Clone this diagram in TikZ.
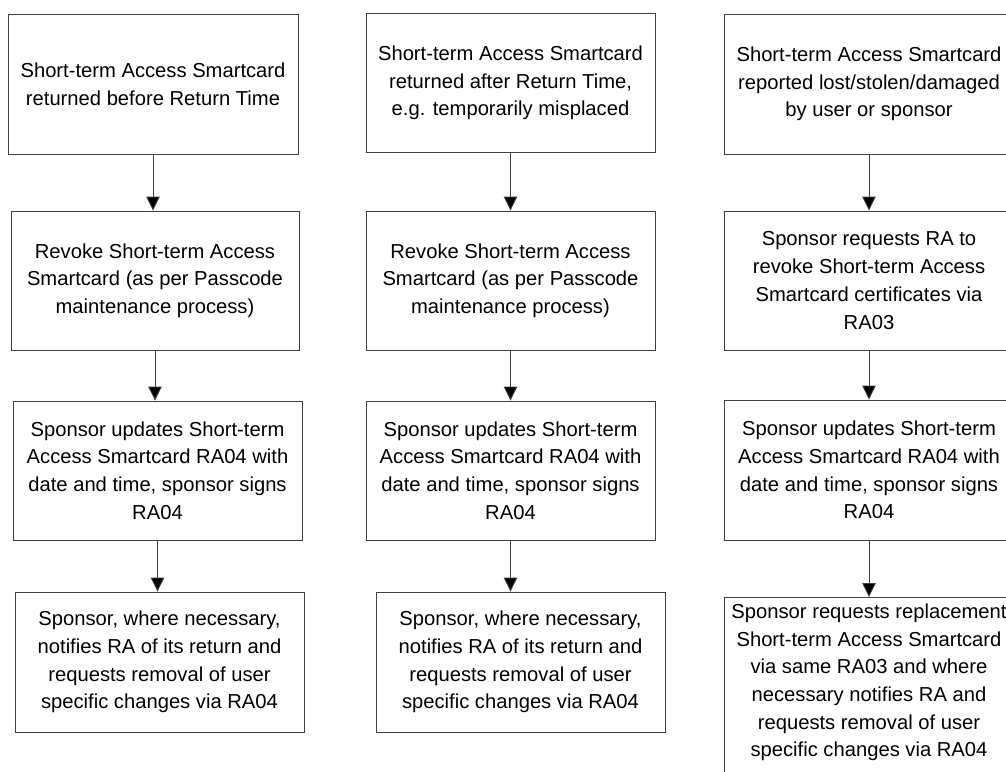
\documentclass[tikz,border=0pt]{standalone}
\usepackage{fontspec}
\setmainfont{Liberation Sans}
\usetikzlibrary{arrows.meta}
\begin{document}
\begin{tikzpicture}[x=1pt,y=-1pt,
  box/.style={draw=black!75, line width=0.9pt, fill=white, align=center, inner sep=0pt,
    font=\fontsize{20.2}{27.7}\selectfont, text=black},
  boxtext/.style={align=center, inner sep=0pt, font=\fontsize{20.2}{27.7}\selectfont, text=black},
  flow/.style={draw=black!75, line width=0.9pt, -{Triangle[width=13.5pt,length=14pt,fill=black]}}]
\useasboundingbox (0,0) rectangle (1006,771);
\clip (0,0) rectangle (1006,771);
% column 1
\node[box, minimum width=290pt, minimum height=140pt] (a1) at (153,84) {Short-term Access Smartcard\\returned before Return Time};
\node[box, minimum width=288pt, minimum height=139pt] (a2) at (155,280.5) {Revoke Short-term Access\\Smartcard (as per Passcode\\maintenance process)};
\node[box, minimum width=289pt, minimum height=139pt] (a3) at (157.5,470.5) {Sponsor updates Short-term\\Access Smartcard RA04 with\\date and time, sponsor signs\\RA04};
\node[box, minimum width=289pt, minimum height=140pt] (a4) at (159.5,662) {Sponsor, where necessary,\\notifies RA of its return and\\requests removal of user\\specific changes via RA04};
% column 2
\node[box, minimum width=289pt, minimum height=139pt] (b1) at (510.5,83) {Short-term Access Smartcard\\returned after Return Time,\\e.g. temporarily misplaced};
\node[box, minimum width=289pt, minimum height=139pt] (b2) at (510.5,280.5) {Revoke Short-term Access\\Smartcard (as per Passcode\\maintenance process)};
\node[box, minimum width=289pt, minimum height=139pt] (b3) at (510.5,470.5) {Sponsor updates Short-term\\Access Smartcard RA04 with\\date and time, sponsor signs\\RA04};
\node[box, minimum width=289pt, minimum height=140pt] (b4) at (520.5,662) {Sponsor, where necessary,\\notifies RA of its return and\\requests removal of user\\specific changes via RA04};
% column 3
\node[box, minimum width=290pt, minimum height=140pt] (c1) at (869,84) {Short-term Access Smartcard\\reported lost/stolen/damaged\\by user or sponsor};
\node[box, minimum width=290pt, minimum height=139pt] (c2) at (869,280.5) {Sponsor requests RA to\\revoke Short-term Access\\Smartcard certificates via\\RA03};
\node[box, minimum width=290pt, minimum height=140pt] (c3) at (869,470) {Sponsor updates Short-term\\Access Smartcard RA04 with\\date and time, sponsor signs\\RA04};
\node[box, minimum width=290pt, minimum height=220pt, anchor=north] (c4) at (869,597) {};
\node[boxtext] (c4t) at (869,682.5) {Sponsor requests replacement\\Short-term Access Smartcard\\via same RA03 and where\\necessary notifies RA and\\requests removal of user\\specific changes via RA04};
% connectors
\foreach \u/\v in {a1/a2,a2/a3,a3/a4,b1/b2,b2/b3,b3/b4,c1/c2,c2/c3,c3/c4}
  \draw[flow] (\u.south) -- (\u.south |- \v.north);
\end{tikzpicture}
\end{document}
